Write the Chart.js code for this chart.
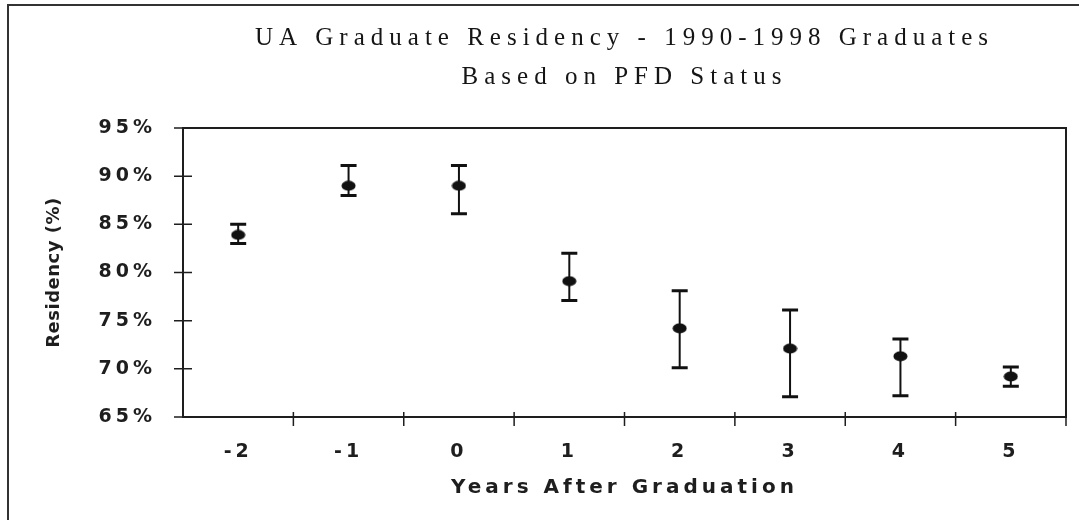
<!DOCTYPE html>
<html>
<head>
<meta charset="utf-8">
<script src="https://cdn.jsdelivr.net/npm/chart.js@4"></script>
<style>
  body { margin: 0; background: #fff; }
</style>
</head>
<body>
<canvas id="chart" width="1079" height="520"></canvas>
<script>
const years = ["-2", "-1", "0", "1", "2", "3", "4", "5"];
const residency = [83.9, 89.0, 89.0, 79.1, 74.2, 72.1, 71.3, 69.2];
const upper = [85.0, 91.1, 91.1, 82.0, 78.1, 76.1, 73.1, 70.2];
const lower = [83.0, 88.0, 86.1, 77.1, 70.1, 67.1, 67.2, 68.2];
const yTicks = [65, 70, 75, 80, 85, 90, 95];

const ink = "#1e1e1e";

// filled ellipse used as the marker
const dot = document.createElement("canvas");
dot.width = 15;
dot.height = 11;
const dctx = dot.getContext("2d");
dctx.fillStyle = "#111";
dctx.beginPath();
dctx.ellipse(7.5, 5.5, 7, 5, 0, 0, Math.PI * 2);
dctx.fill();

// the scanned chart has widely spaced lettering
const letterSpacing = {
  id: "letterSpacing",
  beforeDraw(chart) {
    const ctx = chart.ctx;
    if (ctx.spaced) return;
    ctx.spaced = true;
    const fillText = ctx.fillText;
    ctx.fillText = function (text, x, y, maxWidth) {
      if (this.font.includes("Serif")) this.letterSpacing = "6px";
      else if (this.font.includes("18px")) this.letterSpacing = "0.5px";
      else this.letterSpacing = "4px";
      return fillText.call(this, text, x, y, maxWidth);
    };
  },
};

const frame = {
  id: "frame",
  beforeDraw(chart) {
    const ctx = chart.ctx;
    ctx.save();
    ctx.strokeStyle = "#333";
    ctx.lineWidth = 2;
    ctx.beginPath();
    ctx.moveTo(8, chart.height);
    ctx.lineTo(8, 5);
    ctx.lineTo(chart.width, 5);
    ctx.stroke();
    ctx.restore();
  },
  afterDraw(chart) {
    const { ctx, chartArea: a } = chart;
    const x = chart.scales.x;
    const y = chart.scales.y;
    ctx.save();
    ctx.strokeStyle = ink;
    ctx.lineWidth = 2;
    ctx.strokeRect(a.left, a.top, a.right - a.left, a.bottom - a.top);
    ctx.lineWidth = 1.5;
    ctx.beginPath();
    y.ticks.forEach((t) => {
      const py = y.getPixelForValue(t.value);
      ctx.moveTo(a.left - 9, py);
      ctx.lineTo(a.left + 9, py);
    });
    for (let i = 1; i <= years.length; i++) {
      const px = i < years.length
        ? (x.getPixelForValue(i - 1) + x.getPixelForValue(i)) / 2
        : a.right;
      ctx.moveTo(px, a.bottom - 5);
      ctx.lineTo(px, a.bottom + 9);
    }
    ctx.stroke();
    ctx.restore();
  },
};

const errorBars = {
  id: "errorBars",
  beforeDatasetsDraw(chart) {
    const ctx = chart.ctx;
    const x = chart.scales.x;
    const y = chart.scales.y;
    ctx.save();
    ctx.strokeStyle = "#111";
    years.forEach((_, i) => {
      const px = x.getPixelForValue(i);
      const hi = y.getPixelForValue(upper[i]);
      const lo = y.getPixelForValue(lower[i]);
      ctx.lineWidth = 2;
      ctx.beginPath();
      ctx.moveTo(px, hi);
      ctx.lineTo(px, lo);
      ctx.stroke();
      ctx.lineWidth = 3;
      ctx.beginPath();
      ctx.moveTo(px - 8, hi);
      ctx.lineTo(px + 8, hi);
      ctx.moveTo(px - 8, lo);
      ctx.lineTo(px + 8, lo);
      ctx.stroke();
    });
    ctx.restore();
  },
};

new Chart(document.getElementById("chart"), {
  type: "line",
  data: {
    labels: years,
    datasets: [
      {
        data: residency,
        showLine: false,
        pointStyle: dot,
        pointRadius: 7,
        pointHoverRadius: 7,
      },
    ],
  },
  options: {
    responsive: false,
    animation: false,
    layout: { padding: { right: 13 } },
    plugins: {
      legend: { display: false },
      tooltip: { enabled: false },
      title: {
        display: true,
        fullSize: false,
        text: ["UA Graduate Residency - 1990-1998 Graduates", "Based on PFD Status"],
        color: "#151515",
        font: { family: "'Liberation Serif'", size: 25, weight: "normal", lineHeight: 1.54 },
        padding: { top: 19.2, bottom: 31.8 },
      },
    },
    scales: {
      x: {
        offset: true,
        grid: { display: false, drawTicks: false },
        border: { display: false },
        ticks: {
          color: ink,
          padding: 24,
          font: { family: "'DejaVu Sans'", size: 19, weight: "bold" },
        },
        title: {
          display: true,
          text: "Years After Graduation",
          color: ink,
          font: { family: "'DejaVu Sans'", size: 20, weight: "bold" },
          padding: { top: 0, bottom: 20 },
        },
        afterFit(scale) {
          scale.height = 103;
        },
      },
      y: {
        min: 65,
        max: 95,
        grid: { display: false, drawTicks: false },
        border: { display: false },
        afterBuildTicks(scale) {
          scale.ticks = yTicks.map((v) => ({ value: v }));
        },
        ticks: {
          color: ink,
          padding: 27,
          font: { family: "'DejaVu Sans'", size: 19, weight: "bold" },
          callback: (v) => v + "%",
        },
        title: {
          display: true,
          text: "Residency (%)",
          color: ink,
          font: { family: "'DejaVu Sans'", size: 18, weight: "bold" },
          padding: { top: 44 },
        },
        afterFit(scale) {
          scale.width = 183;
        },
      },
    },
  },
  plugins: [letterSpacing, frame, errorBars],
});
</script>
</body>
</html>
